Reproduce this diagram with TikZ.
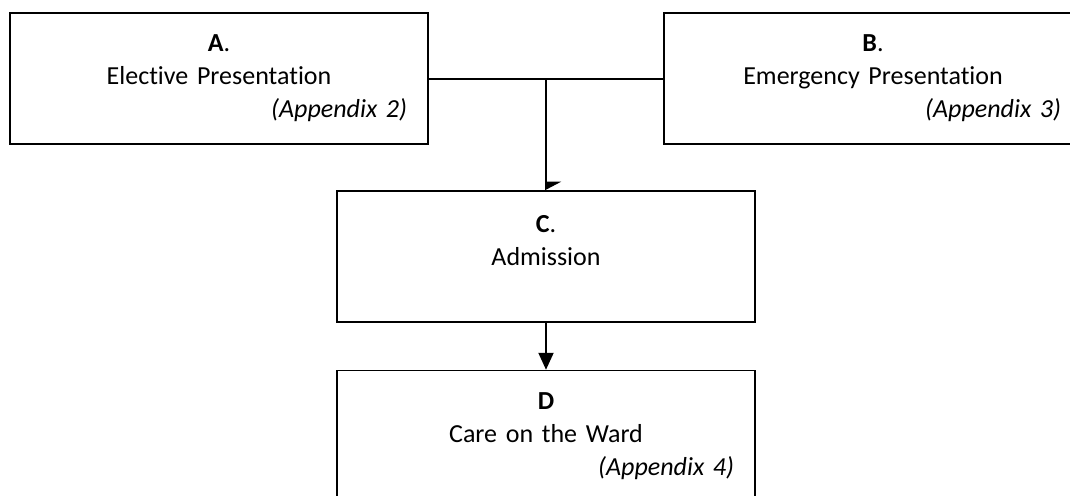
\documentclass[tikz,border=0pt]{standalone}
\usepackage{fontspec}
\setmainfont{Carlito}[Ligatures=CommonOff]
\usetikzlibrary{arrows.meta,positioning}

\tikzset{
  stage/.style={draw=black, line width=1.5pt, minimum width=418pt, minimum height=131pt,
    text width=376pt, inner xsep=21pt, align=center, font=\fontsize{26}{33}\selectfont},
  link/.style={line width=2pt},
}
\newcommand{\apxline}[1]{\hspace*{0pt plus 1fill}\textit{(Appendix #1)}}

\begin{document}
\begin{tikzpicture}[x=1pt,y=-1pt]
  \clip (0,0) rectangle (1070,495);

  \node[stage] (elect) at (219,78.5) {\textbf{A}.\\Elective Presentation\\\apxline{2}};
  \node[stage] (emerg) at (873,78.5) {\textbf{B}.\\Emergency Presentation\\\apxline{3}};
  \node[stage] (admit) at (546,256.5) {\textbf{C}.\\Admission\\~};
  \node[stage, below=47pt of admit] (ward) {\textbf{D}\\Care on the Ward\\\apxline{4}};

  \coordinate (join) at (elect.east -| admit.north);
  \draw[link] (elect.east) -- (emerg.west);
  \draw[link, -{Triangle[left,length=8pt,width=30pt]}] (join) -- (admit.north);
  \draw[link, -{Triangle[length=17pt,width=15pt]}] (admit.south) -- (ward.north);
\end{tikzpicture}
\end{document}
